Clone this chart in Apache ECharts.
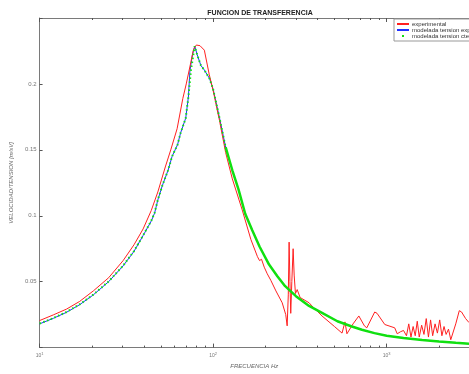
<!DOCTYPE html>
<html>
<head>
<meta charset="utf-8">
<script src="https://cdn.jsdelivr.net/npm/echarts@6/dist/echarts.min.js"></script>
<style>
  html, body { margin: 0; padding: 0; background: #fff; }
  #chart { width: 469px; height: 374px; }
</style>
</head>
<body>
<div id="chart"></div>
<script>
// frequency [Hz], velocity/tension [m/sV]
const experimental = [
  [10, 0.0205], [12, 0.0248], [14.3, 0.0292], [17, 0.035], [20.4, 0.043], [25, 0.053],
  [30.3, 0.066], [35, 0.078], [39.5, 0.09], [44, 0.104], [48, 0.118], [53, 0.137],
  [57, 0.15], [62, 0.166], [66.9, 0.189], [70, 0.2], [74, 0.215], [77, 0.226],
  [80, 0.2295], [84, 0.229], [89, 0.2256], [95, 0.207], [100, 0.195], [108.9, 0.172],
  [118, 0.148], [129, 0.128], [147, 0.1045], [165, 0.082], [180, 0.069], [185, 0.066],
  [190, 0.067], [197, 0.061], [205, 0.056], [210, 0.057], [215, 0.051], [230, 0.043],
  [250, 0.034], [262, 0.025], [267, 0.0165], [271, 0.04], [274, 0.08], [277, 0.05],
  [280, 0.026], [284, 0.05], [289, 0.075], [293, 0.055], [298, 0.041], [305, 0.044],
  [317, 0.038], [357, 0.034], [371, 0.0316], [424, 0.024], [500, 0.016], [553, 0.011],
  [575, 0.0195], [590, 0.0105], [640, 0.018], [691, 0.024], [744, 0.0165], [768, 0.015],
  [853, 0.027], [880, 0.026], [975, 0.0175], [1112, 0.015], [1150, 0.0105], [1200, 0.012],
  [1250, 0.013], [1300, 0.009], [1340, 0.018], [1380, 0.008], [1420, 0.016], [1460, 0.009],
  [1500, 0.02], [1540, 0.008], [1590, 0.017], [1640, 0.01], [1690, 0.022], [1740, 0.008],
  [1790, 0.021], [1840, 0.009], [1900, 0.018], [1960, 0.011], [2020, 0.021], [2080, 0.009],
  [2140, 0.016], [2200, 0.01], [2270, 0.014], [2340, 0.006], [2400, 0.005], [2500, 0.018],
  [2620, 0.028], [2700, 0.027], [2850, 0.022], [2980, 0.019]
];

const modelExp = [
  [10, 0.018], [12, 0.0222], [14.3, 0.0268], [17, 0.0325], [20.4, 0.04], [25, 0.05],
  [30.3, 0.062], [35, 0.073], [39.5, 0.085], [44, 0.096], [46, 0.102], [48, 0.112],
  [51, 0.123], [55, 0.1345], [58, 0.145], [62.4, 0.154], [65, 0.163], [69.5, 0.174],
  [72, 0.19], [73.5, 0.21], [76, 0.222], [78.3, 0.2286], [81, 0.222], [85, 0.214],
  [89, 0.2105], [95.4, 0.204], [100, 0.196], [108.9, 0.174], [118, 0.152], [129, 0.1345],
  [140, 0.12], [153, 0.1015], [168, 0.089], [185, 0.0767], [210, 0.063], [235, 0.054],
  [260, 0.0466], [300, 0.039], [357, 0.0316], [424, 0.0263], [520, 0.02], [630, 0.016],
  [720, 0.0135], [850, 0.011], [1000, 0.009], [1250, 0.0072], [1600, 0.0058], [2000, 0.0047],
  [2500, 0.0037], [2980, 0.003]
];

// constant-tension model: dotted near the peak, dense (solid) in the tail
const modelCteLow = [
  [10, 0.0182], [12, 0.0224], [14.3, 0.027], [17, 0.0327], [20.4, 0.0402], [25, 0.0502],
  [30.3, 0.0622], [35, 0.0732], [39.5, 0.0852], [44, 0.0962], [46, 0.1022], [48, 0.112],
  [51, 0.123], [55, 0.1345], [58, 0.145], [62.4, 0.154], [65, 0.163], [69.5, 0.174],
  [72, 0.19], [74.5, 0.2105], [78.3, 0.2286], [81, 0.222], [85, 0.214], [89, 0.2105],
  [95.4, 0.204], [100, 0.196], [108.9, 0.174], [118, 0.152]
];
const modelCteHigh = [
  [118, 0.152], [129, 0.1345], [140, 0.12], [153, 0.1015], [168, 0.089], [185, 0.0767],
  [210, 0.063], [235, 0.054], [260, 0.0466], [300, 0.039], [357, 0.0316], [424, 0.0263],
  [520, 0.02], [630, 0.016], [720, 0.0135], [850, 0.011], [1000, 0.009], [1250, 0.0072],
  [1600, 0.0058], [2000, 0.0047], [2500, 0.0037], [2980, 0.003]
];

const majorTicks = [10, 100, 1000];
const minorTicks = [20, 30, 40, 50, 60, 70, 80, 90, 200, 300, 400, 500, 600, 700, 800, 900, 2000];

const font = 'Liberation Sans';
const axisGrey = '#7a7a7a';
const tickGrey = '#555';

const chart = echarts.init(document.getElementById('chart'));

const logAxis = (pos, ticks, tickLen, labels) => ({
  type: 'log',
  logBase: 10,
  min: 10,
  max: 2980,
  position: pos,
  axisLine: { show: true, lineStyle: { color: axisGrey, width: 1 } },
  axisTick: { show: true, inside: true, length: tickLen, customValues: ticks, lineStyle: { color: tickGrey, width: 1 } },
  axisLabel: labels ? {
    show: true,
    customValues: majorTicks,
    margin: 4,
    formatter: v => '10{e|' + Math.round(Math.log10(v)) + '}',
    color: '#777',
    fontFamily: font,
    fontSize: 5,
    rich: { e: { fontSize: 4, color: '#777', verticalAlign: 'top', padding: [0, 0, 4, 0] } }
  } : { show: false },
  splitLine: { show: false }
});

const option = {
  backgroundColor: '#fff',
  animation: false,
  title: {
    text: 'FUNCION DE TRANSFERENCIA',
    left: 255,
    textAlign: 'center',
    top: 5,
    textStyle: { fontFamily: font, fontSize: 7, fontWeight: 'bold', color: '#222' }
  },
  legend: {
    orient: 'vertical',
    left: 394,
    top: 19,
    itemWidth: 12,
    itemHeight: 2,
    itemGap: 0,
    padding: [2, 40, 2, 3],
    borderColor: '#999',
    borderWidth: 1,
    backgroundColor: '#fff',
    textStyle: { fontFamily: font, fontSize: 6, color: '#333', padding: [0, 0, 0, -2] },
    data: [
      { name: 'experimental', icon: 'rect' },
      { name: 'modelada tension exp', icon: 'rect' },
      { name: 'modelada tension cte', icon: 'path://M0,0h1v1h-1z' }
    ]
  },
  grid: { left: 36, right: 0, top: 18, bottom: 22 },
  xAxis: [
    Object.assign(logAxis('bottom', majorTicks, 4, true), {
      name: 'FRECUENCIA Hz',
      nameLocation: 'middle',
      nameGap: 13,
      nameTextStyle: { fontFamily: font, fontSize: 6, fontStyle: 'italic', color: '#666' }
    }),
    logAxis('bottom', minorTicks, 2, false),
    logAxis('top', majorTicks, 4, false),
    logAxis('top', minorTicks, 2, false)
  ],
  yAxis: {
    type: 'value',
    min: 0,
    max: 0.25,
    interval: 0.05,
    name: 'VELOCIDAD/TENSION [m/sV]',
    nameLocation: 'middle',
    nameGap: 17,
    nameTextStyle: { fontFamily: font, fontSize: 6, fontStyle: 'italic', color: '#666' },
    axisLine: { show: true, lineStyle: { color: axisGrey, width: 1 } },
    axisTick: { show: true, inside: true, length: 3, lineStyle: { color: tickGrey } },
    axisLabel: {
      margin: 3,
      fontFamily: font,
      fontSize: 6,
      color: '#777',
      formatter: v => (v > 0 && v < 0.24 ? String(+v.toFixed(2)) : '')
    },
    splitLine: { show: false }
  },
  series: [
    {
      name: 'experimental',
      type: 'line',
      data: experimental,
      showSymbol: false,
      color: '#ff2020',
      lineStyle: { width: 1, color: '#ff2020' },
      z: 3
    },
    {
      name: 'modelada tension exp',
      type: 'line',
      data: modelExp,
      showSymbol: false,
      color: '#2030ff',
      lineStyle: { width: 1, color: '#2030ff' },
      z: 2
    },
    {
      name: 'modelada tension cte',
      type: 'line',
      data: modelCteLow,
      showSymbol: false,
      color: '#10e010',
      lineStyle: { width: 2, color: '#10e010', type: [1.5, 2.5] },
      z: 4
    },
    {
      name: 'modelada tension cte',
      type: 'line',
      data: modelCteHigh,
      showSymbol: false,
      color: '#10e010',
      lineStyle: { width: 2.5, color: '#10e010' },
      z: 4
    }
  ]
};

chart.setOption(option);
</script>
</body>
</html>
